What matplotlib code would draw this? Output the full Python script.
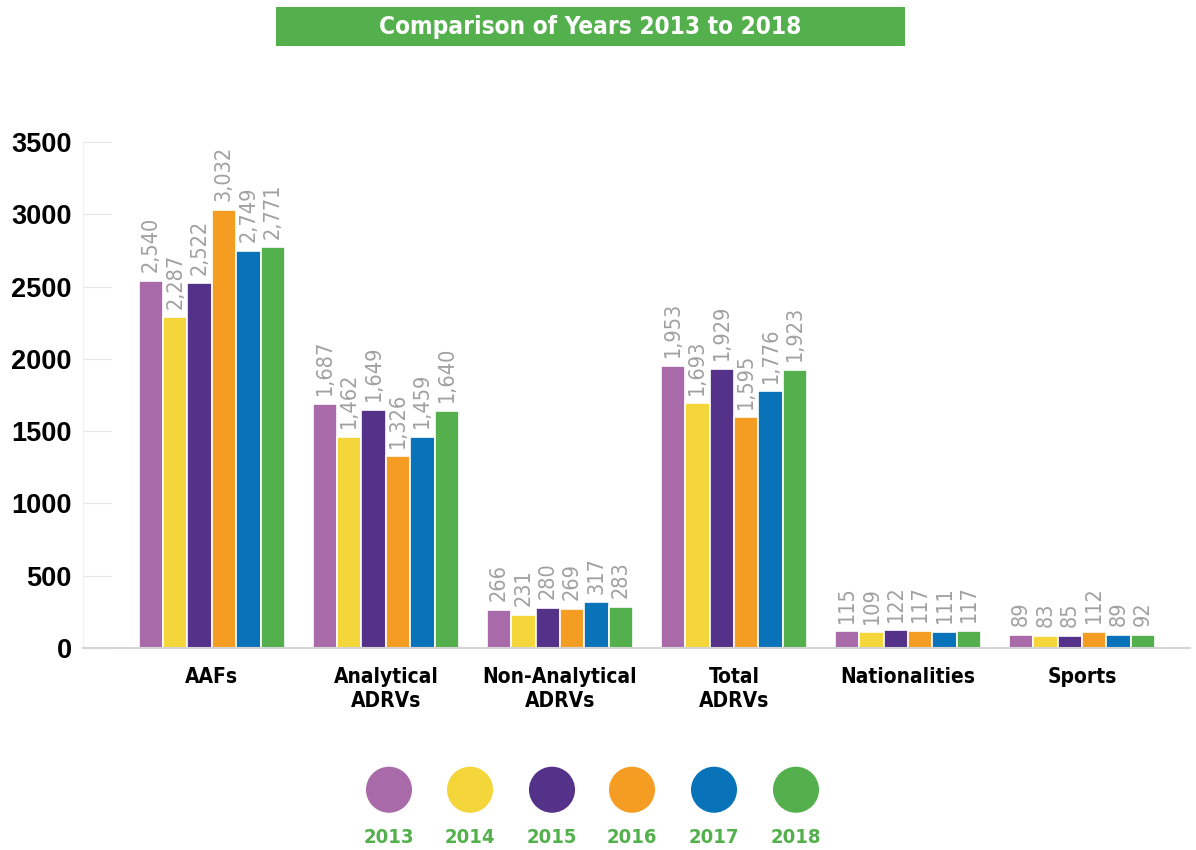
import numpy as np
import matplotlib
matplotlib.use("Agg")
from matplotlib import pyplot as plt
from matplotlib.patches import Rectangle

# data
categories = ["AAFs", "Analytical\nADRVs", "Non-Analytical\nADRVs", "Total\nADRVs", "Nationalities", "Sports"]
years = ["2013", "2014", "2015", "2016", "2017", "2018"]
v2013 = [2540, 1687, 266, 1953, 115, 89]
v2014 = [2287, 1462, 231, 1693, 109, 83]
v2015 = [2522, 1649, 280, 1929, 122, 85]
v2016 = [3032, 1326, 269, 1595, 117, 112]
v2017 = [2749, 1459, 317, 1776, 111, 89]
v2018 = [2771, 1640, 283, 1923, 117, 92]
colors = ["#a96aa9", "#f4d53a", "#553289", "#f59c23", "#0873b9", "#53b04c"]

series = [v2013, v2014, v2015, v2016, v2017, v2018]
green = "#53b04c"
cond = dict(family="DejaVu Sans", stretch="condensed")

fig = plt.figure(figsize=(11.96, 8.5), dpi=100)
ax = fig.add_axes([0.0694, 0.2376, 0.9256, 0.5954])

x = np.arange(len(categories))
w = 0.14
for i, vals in enumerate(series):
    pos = x + (i - 2.5) * w
    ax.bar(pos, vals, width=w, color=colors[i], edgecolor="white", linewidth=1.2)
    for px, v in zip(pos, vals):
        ax.text(px, v + 60, f"{v:,}", rotation=90, ha="center", va="bottom",
                color="#a0a0a0", fontsize=15.5, **cond)

ax.set_xlim(-0.74, 5.62)
ax.set_ylim(0, 3500)
ax.set_yticks(range(0, 3501, 500))
ax.set_yticklabels([str(t) for t in range(0, 3501, 500)], fontsize=19.5,
                   fontweight="bold", family="Liberation Sans")
ax.tick_params(axis="y", direction="in", length=20, color="#e6e6e6", pad=8)
ax.set_xticks(x)
ax.set_xticklabels(categories, fontsize=15, fontweight="bold", linespacing=1.2, **cond)
ax.tick_params(axis="x", length=0, pad=14)
for s in ["top", "right"]:
    ax.spines[s].set_visible(False)
ax.spines["left"].set_color("#eeeeee")
ax.spines["bottom"].set_color("#d5d5d5")
ax.spines["bottom"].set_linewidth(1.5)

# title banner
fig.patches.append(Rectangle((276 / 1196, 1 - 46 / 850), 629 / 1196, 39 / 850,
                             transform=fig.transFigure, facecolor=green,
                             edgecolor="none"))
fig.text(590 / 1196, 1 - 27 / 850, "Comparison of Years 2013 to 2018", ha="center",
         va="center", color="white", fontsize=17.5, fontweight="bold", **cond)

# legend
lax = fig.add_axes([0.0, 0.0, 1.0, 0.13])
lax.set_xlim(0, 1196)
lax.set_ylim(0, 110)
lax.axis("off")
lx = [389, 470, 552, 632, 714, 796]
lax.scatter(lx, [60] * 6, s=1100, c=colors, edgecolors="none")
for px, yr in zip(lx, years):
    lax.text(px, 12, yr, ha="center", va="center", color=green, fontsize=14.5,
             fontweight="bold", **cond)

fig.savefig("out.png", dpi=100)
